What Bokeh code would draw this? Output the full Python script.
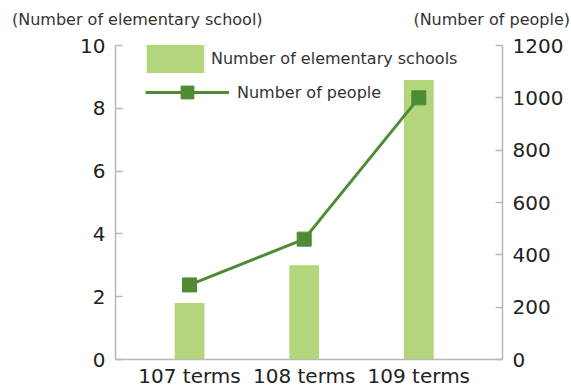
from bokeh.plotting import figure
from bokeh.layouts import column
from bokeh.models import (Range1d, LinearAxis, FixedTicker, Legend, LegendItem,
                          Div, ColumnDataSource)
from bokeh.embed import file_html
from bokeh.resources import INLINE

# ---- data ----
categories = ["107 terms", "108 terms", "109 terms"]
schools = [1.8, 3.0, 8.9]
people = [285, 460, 1000]
left_ticks = [0, 2, 4, 6, 8, 10]
right_ticks = [0, 200, 400, 600, 800, 1000, 1200]
left_title = "(Number of elementary school)"
right_title = "(Number of people)"

xs = list(range(len(categories)))
src = ColumnDataSource(dict(x=xs, schools=schools, people=people))

FONT = "DejaVu Sans"
BAR = "#b3d67c"
LINE = "#4f8a34"
AXIS = "#b8b8b8"
TXT = "#222222"

# ---- header with the two axis titles ----
head_html = (
    '<div style="position:relative;width:571px;height:30px;'
    "font-family:'DejaVu Sans';font-size:16px;color:#333333;\">"
    '<span style="position:absolute;left:12px;top:11px;line-height:18px;'
    'white-space:nowrap;">' + left_title + '</span>'
    '<span style="position:absolute;right:1px;top:11px;line-height:18px;'
    'white-space:nowrap;">' + right_title + '</span></div>'
)
head = Div(text=head_html, width=571, height=30,
           styles={"margin": "0", "padding": "0"})

# ---- main chart ----
X0, X1 = -0.646, 2.73
p = figure(width=571, height=360, output_backend="svg", toolbar_location=None,
           x_range=Range1d(X0, X1), y_range=Range1d(0, 10),
           min_border_left=115, min_border_right=69, min_border_top=15,
           min_border_bottom=30, x_axis_location=None, y_axis_location=None)
p.outline_line_color = None
p.xgrid.visible = False
p.ygrid.visible = False
p.background_fill_color = "white"
p.border_fill_color = "white"
p.extra_y_ranges = {"people": Range1d(0, 1200)}

def style_axis(ax):
    ax.axis_line_color = AXIS
    ax.axis_line_width = 1.5
    ax.major_tick_line_color = AXIS
    ax.major_tick_line_width = 1.5
    ax.minor_tick_line_color = None
    ax.major_label_text_font = FONT
    ax.major_label_text_color = TXT

xax = LinearAxis(ticker=FixedTicker(ticks=xs),
                 major_label_overrides={i: c for i, c in zip(xs, categories)})
style_axis(xax)
xax.major_tick_in = 0
xax.major_tick_out = 0
xax.major_label_text_font_size = "20px"
xax.major_label_standoff = 4
p.add_layout(xax, "below")

lax = LinearAxis(ticker=FixedTicker(ticks=left_ticks))
style_axis(lax)
lax.major_tick_in = 7
lax.major_tick_out = 0
lax.major_label_text_font_size = "20px"
lax.major_label_standoff = 10
p.add_layout(lax, "left")

rax = LinearAxis(y_range_name="people", ticker=FixedTicker(ticks=right_ticks))
style_axis(rax)
rax.major_tick_in = 7
rax.major_tick_out = 0
rax.major_label_text_font_size = "20px"
rax.major_label_standoff = 10
p.add_layout(rax, "right")

bars = p.vbar(x="x", top="schools", width=0.26, bottom=0, source=src,
              fill_color=BAR, line_color=None)
line = p.line(x="x", y="people", source=src, y_range_name="people",
              line_color=LINE, line_width=3)
pts = p.scatter(x="x", y="people", source=src, y_range_name="people",
                marker="square", size=14, fill_color=LINE, line_color=LINE)

leg1 = Legend(items=[LegendItem(label="Number of elementary schools", renderers=[bars])],
              location=(24, 283), padding=0, margin=0, border_line_color=None,
              background_fill_alpha=0, glyph_width=72, glyph_height=35,
              label_standoff=0, label_text_font=FONT, label_text_font_size="16px",
              label_text_color="#333333")
leg2 = Legend(items=[LegendItem(label="Number of people", renderers=[line, pts])],
              location=(30, 251), padding=0, margin=0, border_line_color=None,
              background_fill_alpha=0, glyph_width=84, glyph_height=32,
              label_standoff=8, label_text_font=FONT, label_text_font_size="16px",
              label_text_color="#333333")
p.add_layout(leg1, "center")
p.add_layout(leg2, "center")

layout = column(head, p, spacing=0)
open("out.html", "w").write(file_html(layout, INLINE))
